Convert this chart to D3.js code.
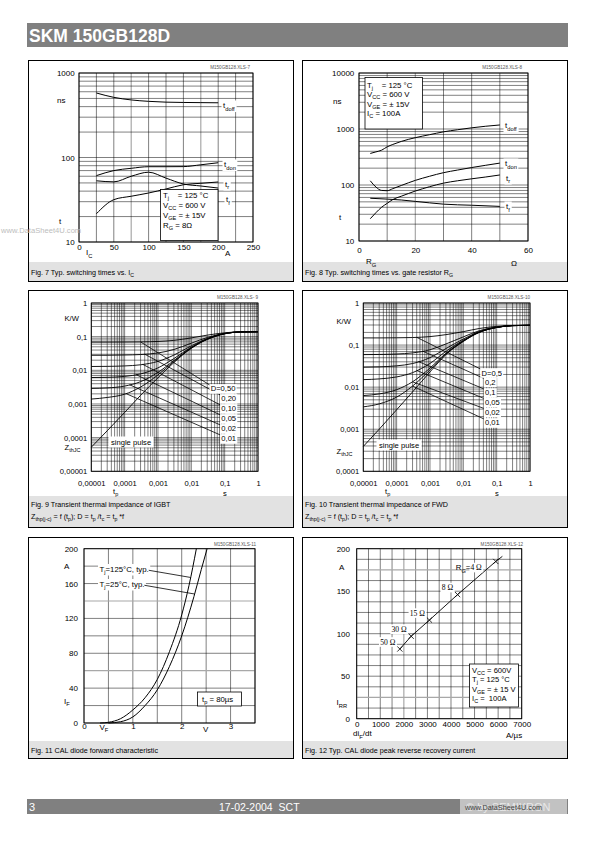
<!DOCTYPE html>
<html><head><meta charset="utf-8">
<script src="https://cdn.jsdelivr.net/npm/d3@7"></script>
<style>
body{margin:0;background:#fff;}
text{white-space:pre;}
</style></head><body>
<svg id="page" width="595" height="842" xmlns="http://www.w3.org/2000/svg"></svg>
<script>
// ---------------- DATA ----------------
// Fig 7: switching times vs Ic
const fig7Ic = [25, 50, 75, 100, 125, 150, 175, 200];
const fig7Tdoff = [580, 515, 480, 462, 452, 448, 446, 444];
const fig7Tdon = [61, 70, 74.5, 77.8, 77.8, 78, 82, 86.7];
const fig7Tr = [21.6, 31.7, 34.8, 38, 42.4, 47.6, 49.5, 51.3];
const fig7Tf = [53, 51.5, 60, 67, 57, 48.6, 46, 43.5];
const fig7XTicks = [0, 50, 100, 150, 200, 250];
const fig7YTicks = [10, 100, 1000];

// Fig 8: switching times vs Rg
const fig8Rg = [4, 6, 8, 10, 12, 15, 20, 25, 30, 35, 40, 45, 50];
const fig8Tdoff = [366, 390, 418, 480, 530, 600, 700, 790, 890, 970, 1050, 1120, 1180];
const fig8Tdon = [119, 92, 80, 79, 86, 98, 121, 143, 166, 185, 205, 225, 246];
const fig8Tr = [25, 32, 40, 47, 55, 63, 78, 93, 108, 119, 129, 139, 151];
const fig8RgTf = [4, 10, 15, 20, 25, 30, 40, 50];
const fig8Tf = [58, 56, 54, 51, 48, 45.5, 43.5, 41.5];
const fig8XTicks = [0, 20, 40, 60];
const fig8YTicks = [10, 100, 1000, 10000];

// Fig 9: transient thermal impedance IGBT
const fig9T = [1e-5, 3e-5, 1e-4, 3e-4, 1e-3, 3e-3, 1e-2, 3e-2, 0.1, 0.3, 1];
const fig9Single = [5.2e-5, 1.6e-4, 5.6e-4, 1.8e-3, 6.0e-3, 0.017, 0.045, 0.083, 0.122, 0.138, 0.14];
const fig9D50 = [0.069, 0.069, 0.0693, 0.0699, 0.072, 0.0775, 0.092, 0.111, 0.13, 0.139, 0.14];
const fig9D20 = [0.028, 0.028, 0.0285, 0.0294, 0.0328, 0.0416, 0.064, 0.0944, 0.1256, 0.1384, 0.14];
const fig9D10 = [0.013, 0.0131, 0.0135, 0.0146, 0.0184, 0.0283, 0.0535, 0.088, 0.124, 0.138, 0.14];
const fig9D05 = [0.0061, 0.0062, 0.0066, 0.0078, 0.0118, 0.0223, 0.049, 0.0855, 0.123, 0.138, 0.14];
const fig9D02 = [0.0029, 0.003, 0.0034, 0.0046, 0.0087, 0.0195, 0.0469, 0.0841, 0.1224, 0.138, 0.14];
const fig9D01 = [0.0014, 0.00156, 0.00195, 0.00318, 0.0073, 0.0182, 0.046, 0.0836, 0.1222, 0.138, 0.14];
const fig9Labels = ["D=0,50", "0,20", "0,10", "0,05", "0,02", "0,01"];
const fig9LeaderT0 = [3e-4, 4e-4, 3.5e-4, 2.2e-4, 1.4e-4, 1.1e-4];
const fig9LeaderT1 = [0.0356, 0.0741, 0.0741, 0.0741, 0.0741, 0.0741];
const fig9LeaderZ1 = [3.67e-3, 1.85e-3, 9.35e-4, 4.72e-4, 2.38e-4, 1.2e-4];
const fig9XTicks = [1e-5, 1e-4, 1e-3, 1e-2, 0.1, 1];
const fig9XLabels = ["0,00001", "0,0001", "0,001", "0,01", "0,1", "1"];
const fig9YTicks = [1e-5, 1e-4, 1e-3, 1e-2, 0.1, 1];
const fig9YLabels = ["0,00001", "0,0001", "0,001", "0,01", "0,1", "1"];

// Fig 10: transient thermal impedance FWD
const fig10T = [1e-5, 3e-5, 1e-4, 3e-4, 1e-3, 3e-3, 1e-2, 3e-2, 0.1, 0.3, 1];
const fig10Single = [3.9e-4, 1.0e-3, 2.9e-3, 7.7e-3, 0.023, 0.059, 0.122, 0.2, 0.262, 0.29, 0.295];
const fig10D50 = [0.148, 0.148, 0.149, 0.151, 0.159, 0.177, 0.2085, 0.2475, 0.2785, 0.2925, 0.295];
const fig10D20 = [0.0593, 0.0598, 0.0613, 0.0652, 0.0774, 0.1062, 0.1566, 0.219, 0.2686, 0.291, 0.295];
const fig10D10 = [0.0299, 0.0304, 0.0321, 0.0364, 0.0502, 0.0826, 0.1393, 0.2095, 0.265, 0.29, 0.295];
const fig10D05 = [0.0151, 0.0157, 0.0175, 0.0221, 0.0366, 0.0708, 0.1307, 0.2048, 0.2637, 0.29, 0.295];
const fig10D02 = [0.0063, 0.0069, 0.0087, 0.0134, 0.0284, 0.0637, 0.1255, 0.2019, 0.2627, 0.29, 0.295];
const fig10D01 = [0.0034, 0.004, 0.0058, 0.0106, 0.0257, 0.0614, 0.1237, 0.201, 0.2623, 0.29, 0.295];
const fig10Labels = ["D=0,5", "0,2", "0,1", "0,05", "0,02", "0,01"];
const fig10LeaderT0 = [4e-4, 6e-4, 4.5e-4, 4e-4, 3e-4, 3e-4];
const fig10LeaderT1 = [0.0328, 0.0418, 0.0418, 0.0418, 0.0418, 0.0418];
const fig10LeaderZ1 = [0.027, 0.0161, 0.00904, 0.00537, 0.00311, 0.00175];
const fig10XTicks = [1e-5, 1e-4, 1e-3, 1e-2, 0.1, 1];
const fig10XLabels = ["0,00001", "0,0001", "0,001", "0,01", "0,1", "1"];
const fig10YTicks = [1e-4, 1e-3, 1e-2, 0.1, 1];
const fig10YLabels = ["0,0001", "0,001", "0,01", "0,1", "1"];

// Fig 11: diode forward characteristic
const fig11V125 = [0.33, 0.5, 0.75, 1.0, 1.25, 1.5, 1.75, 2.0, 2.15, 2.3];
const fig11I125 = [0, 0.8, 5, 15, 29, 50, 82, 124, 158, 200];
const fig11V25 = [0.5, 0.75, 1.0, 1.25, 1.5, 1.75, 2.0, 2.25, 2.4, 2.52];
const fig11I25 = [0, 1.5, 7, 20, 38, 65, 100, 145, 176, 200];
const fig11XTicks = [0, 1, 2, 3];
const fig11YTicks = [0, 40, 80, 120, 160, 200];

// Fig 12: peak reverse recovery current
const fig12DiDt = [1830, 2310, 3085, 4280, 5900];
const fig12Irr = [82, 97, 116, 146, 185];
const fig12Rg = ["50 Ω", "30 Ω", "15 Ω", "8 Ω", "4 Ω"];
const fig12LineEnd = [6180, 191];
const fig12XTicks = [0, 1000, 2000, 3000, 4000, 5000, 6000, 7000];
const fig12YTicks = [0, 50, 100, 150, 200];

// ---------------- HELPERS ----------------
const F = '"Liberation Sans", Arial, Helvetica, sans-serif';
const SERIF = '"Liberation Serif", "Times New Roman", serif';
const svg = d3.select("#page");

function rich(g, x, y, s, o = {}) {
  const size = o.size || 8;
  const t = g.append("text").attr("x", x).attr("y", y)
    .attr("font-family", o.family || F).attr("font-size", size)
    .attr("fill", o.fill || "#000").attr("text-anchor", o.anchor || "start");
  if (o.weight) t.attr("font-weight", o.weight);
  const re = /_\{([^}]*)\}/g;
  let last = 0, m; const pieces = [];
  while ((m = re.exec(s))) {
    if (m.index > last) pieces.push([s.slice(last, m.index), false]);
    pieces.push([m[1], true]); last = re.lastIndex;
  }
  if (last < s.length) pieces.push([s.slice(last), false]);
  let shifted = false;
  pieces.forEach(([txt, isSub]) => {
    const ts = t.append("tspan").text(txt);
    if (isSub) { ts.attr("font-size", size * 0.72); if (!shifted) { ts.attr("dy", size * 0.32); shifted = true; } }
    else if (shifted) { ts.attr("dy", -size * 0.32); shifted = false; }
  });
  return t;
}
function whiteBack(t, px = 1, py = 0.5, stroke) {
  const b = t.node().getBBox();
  const r = document.createElementNS("http://www.w3.org/2000/svg", "rect");
  t.node().parentNode.insertBefore(r, t.node());
  const rs = d3.select(r).attr("x", b.x - px).attr("y", b.y - py).attr("width", b.width + 2 * px)
    .attr("height", b.height + 2 * py).attr("fill", "#fff");
  if (stroke) rs.attr("stroke", stroke).attr("stroke-width", 0.8);
  return rs;
}
function grid(g, xs, ys, xVals, yVals, grayX = [], grayY = []) {
  const [x0, x1] = xs.range(), [y0, y1] = ys.range();
  const isIn = (arr, v) => arr.some(u => Math.abs(u - v) <= 1e-9 * Math.max(1, Math.abs(v)));
  xVals.forEach(v => {
    const gr = isIn(grayX, v);
    g.append("line").attr("x1", xs(v)).attr("x2", xs(v)).attr("y1", y0).attr("y2", y1)
      .attr("stroke", gr ? "#a8a8a8" : "#000").attr("stroke-width", gr ? 1.2 : 0.5);
  });
  yVals.forEach(v => {
    const gr = isIn(grayY, v);
    g.append("line").attr("y1", ys(v)).attr("y2", ys(v)).attr("x1", x0).attr("x2", x1)
      .attr("stroke", gr ? "#a8a8a8" : "#000").attr("stroke-width", gr ? 1.2 : 0.5);
  });
  g.append("rect").attr("x", Math.min(x0, x1)).attr("y", Math.min(y0, y1))
    .attr("width", Math.abs(x1 - x0)).attr("height", Math.abs(y1 - y0))
    .attr("fill", "none").attr("stroke", "#000").attr("stroke-width", 0.9);
}
function yAxis(g, ys, vals, labels, xRight, size) {
  const ax = d3.axisLeft(ys).tickValues(vals).tickFormat((d, i) => labels[i]).tickSize(0).tickPadding(0);
  const a = g.append("g").attr("transform", `translate(${xRight},0)`).call(ax);
  a.select(".domain").remove();
  a.attr("font-family", F).attr("font-size", size);
  a.selectAll("text").attr("fill", "#000");
}
function xAxis(g, xs, vals, labels, baseline, size) {
  const ax = d3.axisBottom(xs).tickValues(vals).tickFormat((d, i) => labels[i]).tickSize(0).tickPadding(0);
  const a = g.append("g").attr("transform", `translate(0,${baseline - 0.71 * size})`).call(ax);
  a.select(".domain").remove();
  a.attr("font-family", F).attr("font-size", size);
  a.selectAll("text").attr("fill", "#000");
  return a;
}
function curve(g, xs, ys, X, Y, w = 1) {
  const line = d3.line().x((d, i) => xs(X[i])).y((d, i) => ys(Y[i])).curve(d3.curveMonotoneX);
  g.append("path").attr("d", line(X)).attr("fill", "none").attr("stroke", "#000").attr("stroke-width", w);
}
function interpLogLog(X, Y, x) {
  for (let i = 0; i < X.length - 1; i++) {
    if (x >= X[i] && x <= X[i + 1]) {
      const f = (Math.log(x) - Math.log(X[i])) / (Math.log(X[i + 1]) - Math.log(X[i]));
      return Math.exp(Math.log(Y[i]) + f * (Math.log(Y[i + 1]) - Math.log(Y[i])));
    }
  }
  return Y[Y.length - 1];
}
function invLin(X, Y, yv) {
  for (let i = 0; i < Y.length - 1; i++) {
    if (yv >= Y[i] && yv <= Y[i + 1]) return X[i] + (yv - Y[i]) / (Y[i + 1] - Y[i]) * (X[i + 1] - X[i]);
  }
  return X[X.length - 1];
}
function panel(x, y, w, h, capY) {
  svg.append("rect").attr("x", x).attr("y", capY).attr("width", w).attr("height", y + h - capY).attr("fill", "#e2e2e2");
  svg.append("rect").attr("x", x + 0.5).attr("y", y + 0.5).attr("width", w - 1).attr("height", h - 1)
    .attr("fill", "none").attr("stroke", "#000").attr("stroke-width", 1);
}
function code(x, y, s) {
  svg.append("text").attr("x", x).attr("y", y).attr("text-anchor", "end").attr("font-family", F)
    .attr("font-size", 4.6).attr("fill", "#555").text(s);
}

// ---------------- PAGE CHROME ----------------
svg.append("rect").attr("x", 27).attr("y", 23).attr("width", 541).attr("height", 24).attr("fill", "#808080");
svg.append("text").attr("x", 29).attr("y", 41.5).attr("fill", "#fff").attr("font-family", F)
  .attr("font-weight", "bold").attr("font-size", 17.5).text("SKM 150GB128D");

panel(28, 60, 266, 222, 262);
panel(302, 60, 266, 222, 262);
panel(28, 290, 266, 238, 496);
panel(302, 290, 266, 238, 496);
panel(28, 537, 266, 222, 741);
panel(302, 537, 266, 222, 741);

rich(svg, 31, 275, "Fig. 7 Typ. switching times vs. I_{C}", { size: 7.2 });
rich(svg, 305, 275, "Fig. 8 Typ. switching times vs. gate resistor R_{G}", { size: 7.2 });
rich(svg, 31, 507, "Fig. 9 Transient thermal impedance of IGBT", { size: 7.2 });
rich(svg, 31, 519, "Z_{thp(j-c)} = f (t_{p}); D = t_{p} /t_{c} = t_{p} *f", { size: 7.2 });
rich(svg, 305, 507, "Fig. 10 Transient thermal impedance of FWD", { size: 7.2 });
rich(svg, 305, 519, "Z_{thp(j-c)} = f (t_{p}); D = t_{p} /t_{c} = t_{p} *f", { size: 7.2 });
rich(svg, 31, 753, "Fig. 11 CAL diode forward characteristic", { size: 7.2 });
rich(svg, 305, 753, "Fig. 12 Typ. CAL diode peak reverse recovery current", { size: 7.2 });

code(250, 68.5, "M150GB128.XLS-7");
code(522, 68.5, "M150GB128.XLS-8");
code(258, 299, "M150GB128.XLS- 9");
code(530, 299, "M150GB128.XLS-10");
code(256, 546, "M150GB128.XLS-11");
code(523, 546, "M150GB128.XLS-12");

// ---------------- FIG 7 ----------------
{
  const g = svg.append("g");
  const x = d3.scaleLinear().domain([0, 250]).range([79, 253]);
  const y = d3.scaleLog().domain([10, 1000]).range([242, 73]);
  grid(g, x, y, d3.range(0, 251, 25), y.ticks(), [75, 175], []);
  curve(g, x, y, fig7Ic, fig7Tdoff);
  curve(g, x, y, fig7Ic, fig7Tdon);
  curve(g, x, y, fig7Ic, fig7Tr);
  curve(g, x, y, fig7Ic, fig7Tf);
  [["t_{doff}", 223, 108], ["t_{don}", 224, 167], ["t_{r}", 225, 186.5], ["t_{f}", 226, 202]].forEach(([s, tx, ty]) => {
    whiteBack(rich(g, tx, ty, s, { size: 8 }), 1.5, 0.5);
  });
  g.append("rect").attr("x", 160.5).attr("y", 189.5).attr("width", 57.5).attr("height", 51)
    .attr("fill", "#fff").attr("stroke", "#000").attr("stroke-width", 0.8);
  rich(g, 163, 198, "T_{j}    = 125 °C", { size: 7.8 });
  rich(g, 163, 208, "V_{CC} = 600 V", { size: 7.8 });
  rich(g, 163, 218, "V_{GE} = ± 15V", { size: 7.8 });
  rich(g, 163, 228, "R_{G} = 8Ω", { size: 7.8 });
  yAxis(g, y, fig7YTicks, fig7YTicks.map(String), 74.7, 8);
  xAxis(g, x, fig7XTicks, fig7XTicks.map(String), 249.5, 8);
  rich(g, 57, 103, "ns", { size: 8 });
  rich(g, 59, 224, "t", { size: 8 });
  rich(g, 86, 255, "I_{C}", { size: 8 });
  rich(g, 225, 256, "A", { size: 8 });
}

// ---------------- FIG 8 ----------------
{
  const g = svg.append("g");
  const x = d3.scaleLinear().domain([0, 60]).range([359, 528]);
  const y = d3.scaleLog().domain([10, 10000]).range([241, 73]);
  grid(g, x, y, d3.range(0, 61, 10), y.ticks(), [20], []);
  curve(g, x, y, fig8Rg, fig8Tdoff);
  curve(g, x, y, fig8Rg, fig8Tdon);
  curve(g, x, y, fig8Rg, fig8Tr);
  curve(g, x, y, fig8RgTf, fig8Tf);
  [["t_{doff}", 505, 128], ["t_{don}", 505, 166], ["t_{r}", 506, 180.5], ["t_{f}", 506, 209]].forEach(([s, tx, ty]) => {
    whiteBack(rich(g, tx, ty, s, { size: 8 }), 1.5, 0.5);
  });
  g.append("rect").attr("x", 365).attr("y", 77.5).attr("width", 57.5).attr("height", 51.5)
    .attr("fill", "#fff").attr("stroke", "#000").attr("stroke-width", 0.8);
  rich(g, 367, 87.5, "T_{j}    = 125 °C", { size: 7.8 });
  rich(g, 367, 97, "V_{CC} = 600 V", { size: 7.8 });
  rich(g, 367, 106.5, "V_{GE} = ± 15V", { size: 7.8 });
  rich(g, 367, 116, "I_{C} = 100A", { size: 7.8 });
  yAxis(g, y, fig8YTicks, fig8YTicks.map(String), 354.3, 8);
  xAxis(g, x, fig8XTicks, fig8XTicks.map(String), 253, 8);
  rich(g, 333, 104, "ns", { size: 8 });
  rich(g, 339, 220, "t", { size: 8 });
  rich(g, 366, 264, "R_{G}", { size: 8 });
  rich(g, 511, 265.5, "Ω", { size: 8 });
}

// ---------------- FIG 9 / 10 ----------------
function thermal(g, x, y, T, single, Ds, labels, t0, t1, z1, sp) {
  Ds.forEach(D => curve(g, x, y, T, D, 0.9));
  curve(g, x, y, T, single, 0.9);
  Ds.forEach((D, i) => {
    const zs = interpLogLog(T, D, t0[i]);
    g.append("line").attr("x1", x(t0[i])).attr("y1", y(zs)).attr("x2", x(t1[i])).attr("y2", y(z1[i]))
      .attr("stroke", "#000").attr("stroke-width", 0.8);
  });
  labels.forEach((s, i) => {
    const t = rich(g, x(t1[i]) + 1, y(z1[i]) + 6.5, s, { size: 7.6 });
    whiteBack(t, 1.2, 0.3);
  });
  const sp1 = rich(g, sp[0], sp[1], "single pulse", { size: 7.6 });
  whiteBack(sp1, 2.5, 1);
}
{
  const g = svg.append("g");
  const x = d3.scaleLog().domain([1e-5, 1]).range([91.3, 258]);
  const y = d3.scaleLog().domain([1e-5, 1]).range([471.3, 303]);
  grid(g, x, y, x.ticks(), y.ticks());
  thermal(g, x, y, fig9T, fig9Single, [fig9D50, fig9D20, fig9D10, fig9D05, fig9D02, fig9D01],
    fig9Labels, fig9LeaderT0, fig9LeaderT1, fig9LeaderZ1, [111, 444.5]);
  yAxis(g, y, fig9YTicks, fig9YLabels, 87.3, 7.6);
  xAxis(g, x, fig9XTicks, fig9XLabels, 485.5, 7.6);
  rich(g, 64.5, 320.5, "K/W", { size: 7.6 });
  rich(g, 64.5, 450, "Z_{thJC}", { size: 7.6 });
  rich(g, 113, 494, "t_{p}", { size: 7.6 });
  rich(g, 223, 496, "s", { size: 7.6 });
}
{
  const g = svg.append("g");
  const x = d3.scaleLog().domain([1e-5, 1]).range([363.3, 530]);
  const y = d3.scaleLog().domain([1e-4, 1]).range([471.3, 303]);
  grid(g, x, y, x.ticks(), y.ticks());
  thermal(g, x, y, fig10T, fig10Single, [fig10D50, fig10D20, fig10D10, fig10D05, fig10D02, fig10D01],
    fig10Labels, fig10LeaderT0, fig10LeaderT1, fig10LeaderZ1, [379, 447.5]);
  yAxis(g, y, fig10YTicks, fig10YLabels, 359.3, 7.6);
  xAxis(g, x, fig10XTicks, fig10XLabels, 485.5, 7.6);
  rich(g, 336.5, 323.5, "K/W", { size: 7.6 });
  rich(g, 336.5, 454, "Z_{thJC}", { size: 7.6 });
  rich(g, 385, 494, "t_{p}", { size: 7.6 });
  rich(g, 495, 496, "s", { size: 7.6 });
}

// ---------------- FIG 11 ----------------
{
  const g = svg.append("g");
  const x = d3.scaleLinear().domain([0, 3.5]).range([84, 255]);
  const y = d3.scaleLinear().domain([0, 200]).range([723, 548.7]);
  grid(g, x, y, d3.range(0, 3.51, 0.5), d3.range(0, 201, 20), [], [140, 60]);
  curve(g, x, y, fig11V125, fig11I125);
  curve(g, x, y, fig11V25, fig11I25);
  const l1 = rich(g, 99.5, 571.5, "T_{j}=125°C, typ.", { size: 7.8 });
  const l2 = rich(g, 99.5, 586.5, "T_{j}=25°C, typ.", { size: 7.8 });
  whiteBack(l1, 1.5, 0.5); whiteBack(l2, 1.5, 0.5);
  const b1 = l1.node().getBBox(), b2 = l2.node().getBBox();
  g.append("line").attr("x1", b1.x + b1.width).attr("y1", b1.y + b1.height * 0.55)
    .attr("x2", x(invLin(fig11V125, fig11I125, 167))).attr("y2", y(167)).attr("stroke", "#000").attr("stroke-width", 0.8);
  g.append("line").attr("x1", b2.x + b2.width).attr("y1", b2.y + b2.height * 0.55)
    .attr("x2", x(invLin(fig11V25, fig11I25, 148))).attr("y2", y(148)).attr("stroke", "#000").attr("stroke-width", 0.8);
  g.append("rect").attr("x", 197.5).attr("y", 692).attr("width", 44).attr("height", 14)
    .attr("fill", "#fff").attr("stroke", "#000").attr("stroke-width", 0.8);
  rich(g, 202, 702, "t_{p} = 80µs", { size: 7.8 });
  yAxis(g, y, fig11YTicks, fig11YTicks.map(String), 78, 8);
  xAxis(g, x, fig11XTicks, fig11XTicks.map(String), 728.5, 8);
  rich(g, 64, 568.5, "A", { size: 8 });
  rich(g, 64, 703.5, "I_{F}", { size: 8 });
  rich(g, 99.5, 729.5, "V_{F}", { size: 8 });
  rich(g, 203, 732, "V", { size: 8 });
}

// ---------------- FIG 12 ----------------
{
  const g = svg.append("g");
  const x = d3.scaleLinear().domain([0, 7000]).range([356.7, 521.7]);
  const y = d3.scaleLinear().domain([0, 200]).range([718.7, 548.7]);
  grid(g, x, y, d3.range(0, 7001, 500), d3.range(0, 201, 12.5), [2000], [175, 25]);
  const lx = fig12DiDt.concat([fig12LineEnd[0]]), ly = fig12Irr.concat([fig12LineEnd[1]]);
  g.append("path").attr("d", d3.line().x((d, i) => x(lx[i])).y((d, i) => y(ly[i]))(lx))
    .attr("fill", "none").attr("stroke", "#000").attr("stroke-width", 0.9);
  fig12DiDt.forEach((v, i) => {
    const cx = x(v), cy = y(fig12Irr[i]), s = 2.6;
    g.append("path").attr("d", `M${cx - s},${cy - s}L${cx + s},${cy + s}M${cx - s},${cy + s}L${cx + s},${cy - s}`)
      .attr("stroke", "#000").attr("stroke-width", 0.8);
  });
  fig12Rg.forEach((s, i) => {
    const cx = x(fig12DiDt[i]), cy = y(fig12Irr[i]);
    if (i < 4) {
      const t = rich(g, cx - 4.5, cy - 4.5, s, { size: 7.6, family: SERIF, anchor: "end" });
      whiteBack(t, 1.2, 0.3);
    } else {
      const t = g.append("text").attr("x", cx - 14).attr("y", cy + 8.6).attr("text-anchor", "end")
        .attr("font-size", 7.6).attr("font-family", SERIF).text(s);
      rich(g, cx - 40, cy + 8.6, "R_{G}=", { size: 7.8 });
      whiteBack(t, 1, 0.3);
    }
  });
  g.append("rect").attr("x", 469.5).attr("y", 664).attr("width", 49).attr("height", 43)
    .attr("fill", "#fff").attr("stroke", "#000").attr("stroke-width", 0.8);
  rich(g, 472, 672.5, "V_{CC} = 600V", { size: 7.6 });
  rich(g, 472, 682, "T_{j} = 125 °C", { size: 7.6 });
  rich(g, 472, 691.5, "V_{GE} = ± 15 V", { size: 7.6 });
  rich(g, 472, 701, "I_{C} =  100A", { size: 7.6 });
  yAxis(g, y, fig12YTicks, fig12YTicks.map(String), 350, 8);
  xAxis(g, x, fig12XTicks, fig12XTicks.map(String), 727, 8);
  rich(g, 339, 570, "A", { size: 8 });
  rich(g, 336.5, 705, "I_{RR}", { size: 8 });
  rich(g, 353, 736, "di_{F}/dt", { size: 8 });
  rich(g, 506, 737.5, "A/µs", { size: 8 });
}

// ---------------- FOOTER ----------------
svg.append("rect").attr("x", 27).attr("y", 799).attr("width", 541).attr("height", 15).attr("fill", "#808080");
svg.append("rect").attr("x", 460).attr("y", 799).attr("width", 107).attr("height", 15).attr("fill", "#c2c2c2");
svg.append("text").attr("x", 29).attr("y", 811).attr("fill", "#fff").attr("font-family", F).attr("font-size", 11).text("3");
svg.append("text").attr("x", 219).attr("y", 811).attr("fill", "#fff").attr("font-family", F).attr("font-size", 10.5).text("17-02-2004  SCT");
svg.append("text").attr("x", 466).attr("y", 811).attr("fill", "#e8e8e8").attr("font-family", F).attr("font-size", 11).text("© by SEMIKRON");
svg.append("text").attr("x", 465).attr("y", 809.5).attr("fill", "#444").attr("font-family", F).attr("font-size", 7.3).text("www.DataSheet4U.com");
// watermark
svg.append("text").attr("x", 1).attr("y", 233).attr("fill", "#bdbdbd").attr("font-family", F).attr("font-size", 7.6).text("www.DataSheet4U.com");
</script>
</body></html>
